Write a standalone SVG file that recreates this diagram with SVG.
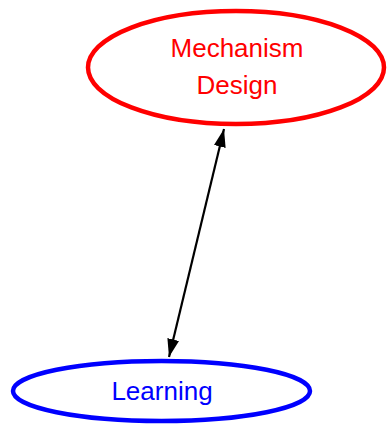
<svg xmlns="http://www.w3.org/2000/svg" width="388" height="424" viewBox="0 0 388 424">
  <style>
    .label { font-family: "Liberation Sans", Arial, sans-serif; font-size: 26px; text-anchor: middle; }
    .node { fill: none; stroke-width: 4.5; }
    .edge { stroke: #000; stroke-width: 2.2; fill: none; }
  </style>
  <defs>
    <marker id="arrow" viewBox="0 0 18 12" refX="18" refY="6" markerWidth="18" markerHeight="12" markerUnits="userSpaceOnUse" orient="auto-start-reverse">
      <path d="M0,0 L18,6 L0,12 Z" fill="#000"/>
    </marker>
  </defs>
  <rect width="388" height="424" fill="#fff"/>
  <g id="connectors">
    <line class="edge" x1="224" y1="129" x2="169" y2="357" marker-start="url(#arrow)" marker-end="url(#arrow)"/>
  </g>
  <g id="mechanism-design">
    <ellipse class="node" cx="236" cy="67.5" rx="148" ry="56.5" stroke="#ff0000"/>
    <text class="label" x="237" y="57" fill="#ff0000">Mechanism</text>
    <text class="label" x="237" y="94" fill="#ff0000">Design</text>
  </g>
  <g id="learning">
    <ellipse class="node" cx="161.5" cy="391" rx="148.5" ry="30" stroke="#0000ff"/>
    <text class="label" x="162" y="400" fill="#0000ff">Learning</text>
  </g>
</svg>
